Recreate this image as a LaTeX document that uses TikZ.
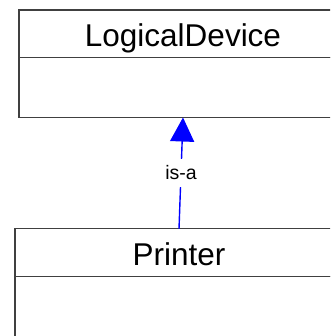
\documentclass[tikz,border=0pt]{standalone}
\usepackage{fontspec}
\setmainfont{Liberation Sans}
\usetikzlibrary{arrows.meta}
\begin{document}
\begin{tikzpicture}[x=1pt,y=1pt,
  boxpart/.style={draw=black!75, line width=1.1pt, minimum width=328pt, inner sep=0pt, outer sep=0pt},
  titlepart/.style={boxpart, minimum height=47.5pt, text height=26pt, text depth=0pt, font=\fontsize{31.5}{38}\selectfont},
  isa/.style={draw=blue, line width=1.4pt, -{Triangle[width=24pt,length=24pt]}},
  isalabel/.style={fill=white, inner xsep=1pt, inner ysep=8pt, text height=12pt, text depth=0pt, font=\fontsize{19.5}{23}\selectfont}
]
\useasboundingbox (0,0) rectangle (330,-336);
\clip (0,0) rectangle (330,-336);
\node[titlepart] (ldh) at (183,-33.75) {LogicalDevice};
\node[boxpart, minimum height=60pt, anchor=north] (ldb) at (ldh.south) {};
\node[titlepart] (prh) at (179,-252.5) {Printer};
\node[boxpart, minimum height=90pt, anchor=north] (prb) at (prh.south) {};
\draw[isa] (prh.north) -- node[isalabel] (lab) {is-a} (ldb.south);
\end{tikzpicture}
\end{document}
